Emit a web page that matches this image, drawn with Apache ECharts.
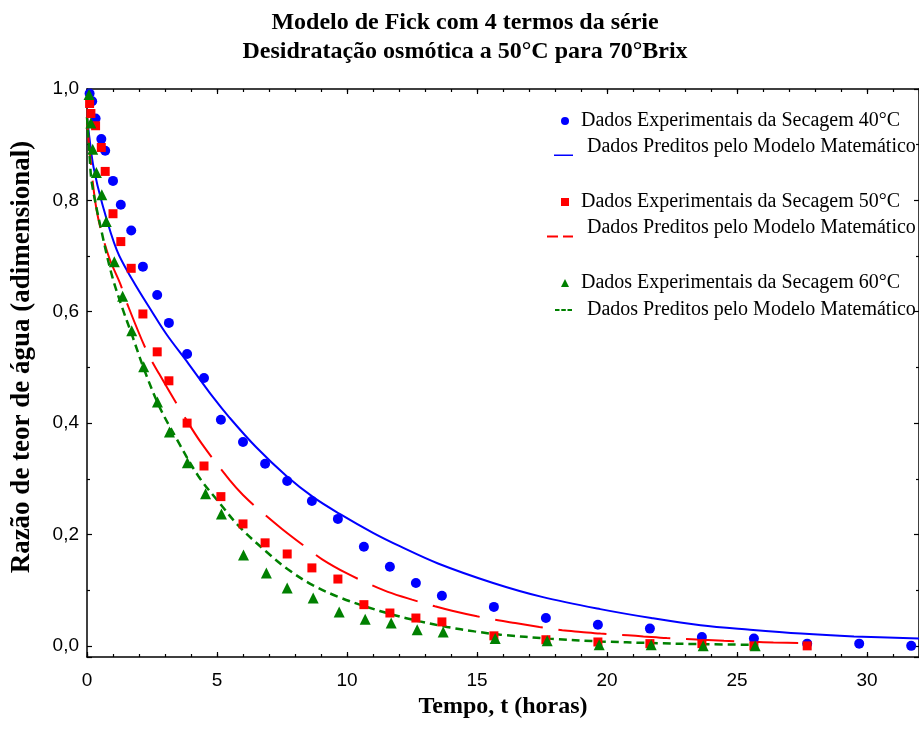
<!doctype html>
<html>
<head>
<meta charset="utf-8">
<title>Modelo de Fick</title>
<script src="https://cdn.jsdelivr.net/npm/echarts@6/dist/echarts.min.js"></script>
<style>
  html, body { margin: 0; padding: 0; background: #fff; }
  #main { width: 919px; height: 744px; }
</style>
</head>
<body>
<div id="main"></div>
<script type="text/javascript">
// dados experimentais (tempo em horas, razão de teor de água)
var tBlue = [0.1, 0.2, 0.33, 0.55, 0.7, 1.0, 1.3, 1.7, 2.15, 2.7, 3.15, 3.85, 4.5, 5.15, 6.0, 6.85, 7.7, 8.65, 9.65, 10.65, 11.65, 12.65, 13.65, 15.65, 17.65, 19.65, 21.65, 23.65, 25.65, 27.7, 29.7, 31.7];
var yBlue = [0.992, 0.978, 0.947, 0.910, 0.889, 0.835, 0.792, 0.746, 0.681, 0.630, 0.580, 0.524, 0.481, 0.406, 0.366, 0.327, 0.296, 0.260, 0.228, 0.178, 0.142, 0.113, 0.090, 0.070, 0.050, 0.038, 0.031, 0.016, 0.013, 0.004, 0.004, 0.0];

var tRed = [0.1, 0.15, 0.33, 0.55, 0.7, 1.0, 1.3, 1.7, 2.15, 2.7, 3.15, 3.85, 4.5, 5.15, 6.0, 6.85, 7.7, 8.65, 9.65, 10.65, 11.65, 12.65, 13.65, 15.65, 17.65, 19.65, 21.65, 23.65, 25.65, 27.7];
var yRed = [0.974, 0.956, 0.934, 0.895, 0.852, 0.776, 0.726, 0.678, 0.596, 0.528, 0.476, 0.400, 0.323, 0.268, 0.219, 0.185, 0.165, 0.140, 0.120, 0.074, 0.059, 0.050, 0.043, 0.018, 0.011, 0.007, 0.004, 0.004, 0.0, 0.0];

var tGreen = [0.08, 0.15, 0.22, 0.36, 0.57, 0.74, 1.05, 1.37, 1.72, 2.18, 2.71, 3.17, 3.86, 4.56, 5.17, 6.02, 6.9, 7.7, 8.7, 9.7, 10.7, 11.7, 12.7, 13.7, 15.7, 17.7, 19.7, 21.7, 23.7, 25.7];
var yGreen = [0.990, 0.939, 0.892, 0.850, 0.810, 0.762, 0.690, 0.628, 0.566, 0.501, 0.438, 0.384, 0.329, 0.273, 0.237, 0.163, 0.131, 0.104, 0.086, 0.061, 0.048, 0.041, 0.029, 0.025, 0.013, 0.009, 0.002, 0.002, 0.0, 0.0];

// curvas preditas pelo modelo
var tBlueFit = [0, 0.1, 0.25, 0.58, 1.15, 1.75, 2.5, 3.05, 3.9, 4.84, 5.48, 6.5, 7.67, 8.7, 9.72, 11.0, 12.03, 13.5, 15.62, 17.5, 19.74, 21.7, 23.6, 25.5, 27.46, 29.5, 32];
var yBlueFit = [0.95, 0.91, 0.86, 0.795, 0.71, 0.657, 0.60, 0.56, 0.507, 0.447, 0.41, 0.357, 0.305, 0.267, 0.237, 0.203, 0.179, 0.148, 0.113, 0.088, 0.066, 0.050, 0.037, 0.029, 0.022, 0.017, 0.013];

var tRedFit = [0, 0.1, 0.38, 0.83, 1.28, 1.54, 2.31, 2.78, 3.74, 4.4, 5.48, 6.0, 6.63, 7.5, 8.45, 9.06, 10.0, 10.91, 11.57, 12.5, 13.38, 14.04, 15.0, 15.81, 16.47, 17.4, 18.28, 19.0, 19.75, 20.8, 21.4, 22.3, 23.25, 24.5, 25.7, 26.4, 27.8];
var yRedFit = [0.95, 0.89, 0.78, 0.70, 0.65, 0.615, 0.528, 0.488, 0.412, 0.364, 0.298, 0.271, 0.244, 0.21, 0.176, 0.155, 0.13, 0.110, 0.097, 0.083, 0.071, 0.063, 0.053, 0.046, 0.041, 0.034, 0.028, 0.025, 0.022, 0.019, 0.017, 0.014, 0.012, 0.009, 0.007, 0.006, 0.005];

var tGreenFit = [0, 0.1, 0.19, 0.58, 0.96, 1.35, 1.74, 2.2, 2.78, 3.43, 4.28, 5.09, 5.86, 6.9, 7.71, 8.68, 9.72, 10.76, 11.76, 12.8, 13.85, 14.9, 15.9, 17.8, 19.75, 21.75, 23.7, 25.7];
var yGreenFit = [0.95, 0.88, 0.83, 0.74, 0.665, 0.608, 0.557, 0.496, 0.43, 0.373, 0.305, 0.257, 0.214, 0.169, 0.138, 0.109, 0.087, 0.070, 0.056, 0.044, 0.034, 0.026, 0.020, 0.013, 0.008, 0.005, 0.003, 0.002];

var nomes = {
	exp40: 'Dados Experimentais da Secagem 40°C',
	fit40: 'Dados Preditos pelo Modelo Matemático',
	exp50: 'Dados Experimentais da Secagem 50°C',
	fit50: 'Dados Preditos pelo Modelo Matemático',
	exp60: 'Dados Experimentais da Secagem 60°C',
	fit60: 'Dados Preditos pelo Modelo Matemático'
};

function pares(t, y) {
	var out = [];
	for (var i = 0; i < t.length; i++) out.push([t[i], y[i]]);
	return out;
}

var serif = 'Liberation Serif';
var sans = 'Liberation Sans';

// ícones das linhas na legenda (pontinhos nos cantos fixam a caixa 0..w x 0..20)
function iconeLinha(w, segs, y0, y1) {
	var p = 'path://M0,0L0.01,0L0,0.01Z M' + (w - 0.01) + ',20L' + w + ',20L' + w + ',19.99Z';
	for (var i = 0; i < segs.length; i++) {
		var a = segs[i][0], b = segs[i][1];
		p += ' M' + a + ',' + y0 + 'L' + b + ',' + y0 + 'L' + b + ',' + y1 + 'L' + a + ',' + y1 + 'Z';
	}
	return p;
}

// uma legenda por item, para reproduzir os grupos
function legenda(id, left, top, w, h, padL, icon) {
	var l = {
		data: [id],
		left: left,
		top: top,
		padding: 0,
		itemWidth: w,
		itemHeight: h,
		selectedMode: false,
		formatter: function (n) { return nomes[n]; },
		textStyle: {
			fontFamily: serif,
			fontSize: 20,
			lineHeight: 20,
			color: '#000',
			padding: [0, 0, 0, padL]
		}
	};
	if (icon) l.icon = icon;
	return l;
}

var eixoX = function (pos, interval, len, showLine, showLabel) {
	return {
		type: 'value', position: pos, min: 0, max: 32, interval: interval,
		axisLine: { show: showLine, onZero: false, lineStyle: { color: '#000', width: 1.5 } },
		axisTick: { show: true, inside: true, length: len, lineStyle: { color: '#000', width: 1.2 } },
		axisLabel: {
			show: showLabel, margin: 14, showMaxLabel: false,
			fontFamily: sans, fontSize: 19, color: '#000'
		},
		splitLine: { show: false }
	};
};

var chart = echarts.init(document.getElementById('main'));
chart.setOption({
	animation: false,
	backgroundColor: '#fff',
	title: {
		text: 'Modelo de Fick com 4 termos da série\nDesidratação osmótica a 50°C para 70°Brix',
		left: 465,
		top: 8,
		padding: 0,
		textAlign: 'center',
		textStyle: { fontFamily: serif, fontWeight: 'bold', fontSize: 24, lineHeight: 29, color: '#000' }
	},
	legend: [
		legenda('exp40', 561, 111, 8, 8, 7),
		legenda('fit40', 554, 137, 19, 20, 9, iconeLinha(19, [[0, 19]], 17.5, 19)),
		legenda('exp50', 561, 192, 8, 8, 7),
		legenda('fit50', 547, 218, 26, 20, 9, iconeLinha(26, [[0, 11], [16, 26]], 17.5, 19.5)),
		legenda('exp60', 561, 273, 8, 8, 7),
		legenda('fit60', 555, 300, 17, 20, 10, iconeLinha(17, [[0, 4.5], [6.3, 10.8], [12.5, 17]], 9, 11))
	],
	grid: { left: 87, right: -2, top: 89, bottom: 87 },
	xAxis: [
		Object.assign(eixoX('bottom', 5, 5, true, true), {
			name: 'Tempo, t (horas)',
			nameLocation: 'middle',
			nameGap: 38,
			nameTextStyle: { fontFamily: serif, fontWeight: 'bold', fontSize: 24, color: '#000' }
		}),
		eixoX('top', 5, 5, true, false),
		eixoX('bottom', 1, 3, false, false),
		eixoX('top', 1, 3, false, false)
	],
	yAxis: [
		{
			type: 'value', position: 'left', min: -0.02, max: 1.0, splitNumber: 5,
			name: 'Razão de teor de água (adimensional)',
			nameLocation: 'middle',
			nameGap: 51,
			nameTextStyle: { fontFamily: serif, fontWeight: 'bold', fontSize: 27, color: '#000', padding: [0, 0, 0, 32] },
			axisLine: { show: true, onZero: false, lineStyle: { color: '#000', width: 1.5 } },
			axisTick: { inside: true, length: 5, lineStyle: { color: '#000', width: 1.2 } },
			minorTick: { show: true, splitNumber: 2, length: 3, lineStyle: { color: '#000', width: 1.2 } },
			axisLabel: {
				margin: 8, showMinLabel: false,
				fontFamily: sans, fontSize: 19, color: '#000',
				formatter: function (v) { return v.toFixed(1).replace('.', ','); }
			},
			splitLine: { show: false }
		},
		{
			type: 'value', position: 'right', min: -0.02, max: 1.0, splitNumber: 5,
			axisLine: { show: true, onZero: false, lineStyle: { color: '#000', width: 1.5 } },
			axisTick: { inside: true, length: 5, lineStyle: { color: '#000', width: 1.2 } },
			minorTick: { show: true, splitNumber: 2, length: 3, lineStyle: { color: '#000', width: 1.2 } },
			axisLabel: { show: false },
			splitLine: { show: false }
		}
	],
	series: [
		{
			name: 'fit40', type: 'line', data: pares(tBlueFit, yBlueFit),
			symbol: 'none', showSymbol: false, smooth: 0.35,
			color: '#0000ff', lineStyle: { color: '#0000ff', width: 2, type: 'solid' }, z: 2
		},
		{
			name: 'fit50', type: 'line', data: pares(tRedFit, yRedFit),
			symbol: 'none', showSymbol: false, smooth: 0.35,
			color: '#ff0000', lineStyle: { color: '#ff0000', width: 2, type: [48, 16] }, z: 2
		},
		{
			name: 'fit60', type: 'line', data: pares(tGreenFit, yGreenFit),
			symbol: 'none', showSymbol: false, smooth: 0.35,
			color: '#008000', lineStyle: { color: '#008000', width: 2.5, type: [8, 5] }, z: 2
		},
		{
			name: 'exp40', type: 'scatter', data: pares(tBlue, yBlue),
			symbol: 'circle', symbolSize: 10, itemStyle: { color: '#0000ff', opacity: 1 }, z: 3
		},
		{
			name: 'exp50', type: 'scatter', data: pares(tRed, yRed),
			symbol: 'rect', symbolSize: 9, itemStyle: { color: '#ff0000', opacity: 1 }, z: 3
		},
		{
			name: 'exp60', type: 'scatter', data: pares(tGreen, yGreen),
			symbol: 'triangle', symbolSize: 11, itemStyle: { color: '#008000', opacity: 1 }, z: 3
		}
	]
});
</script>
</body>
</html>
